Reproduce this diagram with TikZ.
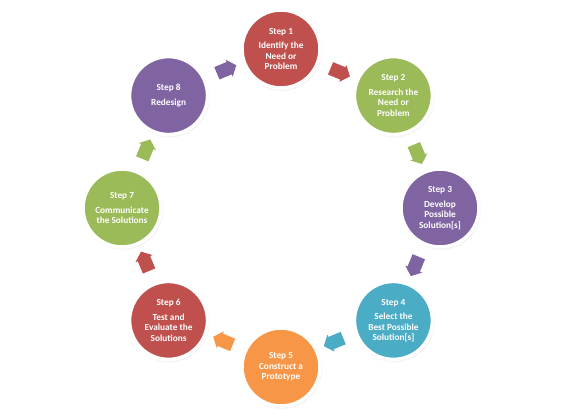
\documentclass[tikz,border=0pt]{standalone}
\usepackage{fontspec}
\setmainfont{Carlito}
\usetikzlibrary{shadows,shapes.arrows}
\definecolor{cred}{HTML}{C0504D}
\definecolor{cgreen}{HTML}{9BBB59}
\definecolor{cpurple}{HTML}{8064A2}
\definecolor{cblue}{HTML}{4BACC6}
\definecolor{corange}{HTML}{F79646}
\begin{document}
\begin{tikzpicture}[x=1pt,y=1pt,
  stepnode/.style={circle, minimum size=78pt, inner sep=0pt, draw=white, line width=3.5pt,
    text=white, font=\bfseries\fontsize{9.3}{10.5}\selectfont, align=center,
    circular drop shadow={shadow xshift=0.6pt, shadow yshift=-1.2pt, opacity=0.3, shadow scale=1.05}},
  cyclearrow/.style={single arrow, draw=none, minimum height=21pt,
    single arrow head extend=2.5pt, single arrow tip angle=100, inner sep=0pt, outer sep=0pt}
]
\useasboundingbox[fill=white] (0,0) rectangle (562,415);
\coordinate (c) at (281,207);
\node[stepnode, fill=cred]    (s1) at ([shift={(90:159)}]c)   {Step 1\\[4pt]Identify the\\Need or\\Problem};
\node[stepnode, fill=cgreen]  (s2) at ([shift={(45:159)}]c)   {Step 2\\[4pt]Research the\\Need or\\Problem};
\node[stepnode, fill=cpurple] (s3) at ([shift={(0:159)}]c)    {Step 3\\[4pt]Develop\\Possible\\Solution[s]};
\node[stepnode, fill=cblue]   (s4) at ([shift={(-45:159)}]c)  {Step 4\\[4pt]Select the\\Best Possible\\Solution[s]};
\node[stepnode, fill=corange] (s5) at ([shift={(-90:159)}]c)  {Step 5\\Construct a\\Prototype};
\node[stepnode, fill=cred]    (s6) at ([shift={(-135:159)}]c) {Step 6\\[4pt]Test and\\Evaluate the\\Solutions};
\node[stepnode, fill=cgreen]  (s7) at ([shift={(180:159)}]c)  {Step 7\\[4pt]Communicate\\the Solutions};
\node[stepnode, fill=cpurple] (s8) at ([shift={(135:159)}]c)  {Step 8\\[4pt]Redesign};
\node[cyclearrow, fill=cred,    rotate=-22.5]  (a12) at ([shift={(67.5:148)}]c) {\rule{0pt}{13pt}};
\node[cyclearrow, fill=cgreen,  rotate=-67.5]  (a23) at ([shift={(22.5:147)}]c) {\rule{0pt}{13pt}};
\node[cyclearrow, fill=cpurple, rotate=-112.5] (a34) at ([shift={(-22.5:146)}]c) {\rule{0pt}{13pt}};
\node[cyclearrow, fill=cblue,   rotate=-157.5] (a45) at ([shift={(-67.5:144)}]c) {\rule{0pt}{13pt}};
\node[cyclearrow, fill=corange, rotate=157.5]  (a56) at ([shift={(-112.5:145)}]c) {\rule{0pt}{13pt}};
\node[cyclearrow, fill=cred,    rotate=112.5]  (a67) at ([shift={(-157.5:146)}]c) {\rule{0pt}{13pt}};
\node[cyclearrow, fill=cgreen,  rotate=67.5]   (a78) at ([shift={(157.5:147)}]c) {\rule{0pt}{13pt}};
\node[cyclearrow, fill=cpurple, rotate=22.5]   (a81) at ([shift={(112.5:149)}]c) {\rule{0pt}{13pt}};
\end{tikzpicture}
\end{document}
